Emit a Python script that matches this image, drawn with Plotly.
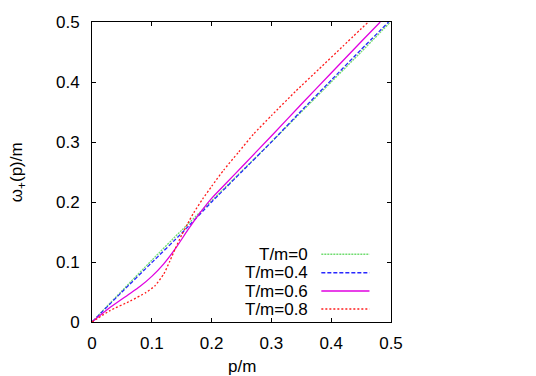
import plotly.graph_objects as go

# ---- data ----
p_T0 = [0, 0.05, 0.1, 0.15, 0.2, 0.25, 0.3, 0.35, 0.4, 0.45, 0.499]
w_T0 = [0, 0.052, 0.103, 0.153, 0.202, 0.251, 0.3, 0.35, 0.4, 0.45, 0.5]

p_T04 = [0, 0.05, 0.1, 0.15, 0.2, 0.25, 0.3, 0.35, 0.4, 0.45, 0.496]
w_T04 = [0, 0.05, 0.099, 0.148, 0.2, 0.25, 0.3, 0.352, 0.403, 0.454, 0.5]

p_T06 = [0, 0.03, 0.06, 0.08, 0.1, 0.12, 0.14, 0.16, 0.18, 0.2, 0.225, 0.25, 0.3, 0.35, 0.4, 0.45, 0.482]
w_T06 = [0, 0.024, 0.045, 0.059, 0.076, 0.097, 0.123, 0.153, 0.181, 0.206, 0.232, 0.258, 0.31, 0.363, 0.415, 0.467, 0.5]

p_T08 = [0, 0.03, 0.064, 0.09, 0.105, 0.12, 0.13, 0.14, 0.15, 0.16, 0.17, 0.185, 0.2, 0.22, 0.245, 0.27, 0.3, 0.34, 0.38, 0.42, 0.462]
w_T08 = [0, 0.019, 0.035, 0.049, 0.06, 0.08, 0.101, 0.124, 0.145, 0.164, 0.182, 0.205, 0.226, 0.253, 0.283, 0.313, 0.344, 0.384, 0.422, 0.46, 0.5]

labels = ["T/m=0", "T/m=0.4", "T/m=0.6", "T/m=0.8"]
colors = ["#70dc70", "#2828ff", "#e000e0", "#ff1c1c"]
dashes = ["2px,1px", "4px,2px", "solid", "2px,2px"]
xs = [p_T0, p_T04, p_T06, p_T08]
ys = [w_T0, w_T04, w_T06, w_T08]

tick_vals = [0, 0.1, 0.2, 0.3, 0.4, 0.5]
tick_text = ["0", "0.1", "0.2", "0.3", "0.4", "0.5"]

FONT = "Liberation Sans, Arial, sans-serif"
FS = 17

fig = go.Figure()
for x, y, c, d, n in zip(xs, ys, colors, dashes, labels):
    fig.add_trace(go.Scatter(x=x, y=y, mode="lines", name=n,
                             line=dict(color=c, width=1.3, dash=d, shape="spline", smoothing=0.5),
                             showlegend=False, cliponaxis=True, hoverinfo="skip"))

# gnuplot-style key: text on the left, line sample on the right
row_y = [0.2257, 0.1643, 0.1033, 0.0433]
for n, c, d, yy in zip(labels, colors, dashes, row_y):
    fig.add_annotation(x=0.728, y=yy, xref="paper", yref="paper", text=n, showarrow=False,
                       xanchor="right", yanchor="middle", font=dict(family=FONT, size=FS, color="black"))
    fig.add_shape(type="line", xref="paper", yref="paper", x0=0.767, x1=0.928, y0=yy, y1=yy,
                  line=dict(color=c, width=1.5, dash=d))

axis_common = dict(range=[0, 0.5], tickvals=tick_vals, ticktext=tick_text, ticks="inside", ticklen=4,
                   tickcolor="black", showline=True, linecolor="black", linewidth=1, mirror="ticks",
                   showgrid=False, zeroline=False, automargin=False,
                   tickfont=dict(family=FONT, size=FS, color="black"))

fig.update_xaxes(**axis_common, ticklabelstandoff=6)
fig.update_yaxes(**axis_common, ticklabelstandoff=8)

fig.add_annotation(x=(241.5 - 91.5) / 300, y=(322 - 366) / 300, xref="paper", yref="paper",
                   text="p/m", showarrow=False, xanchor="center", yanchor="middle",
                   font=dict(family=FONT, size=FS, color="black"))
fig.add_annotation(x=(17.5 - 91.5) / 300, y=0.5, xref="paper", yref="paper",
                   text="ω<sub>+</sub>(p)/m", showarrow=False, textangle=-90,
                   xanchor="center", yanchor="middle",
                   font=dict(family=FONT, size=FS, color="black"))

fig.update_layout(width=536, height=376, margin=dict(l=91.5, r=144.5, t=22, b=54),
                  paper_bgcolor="white", plot_bgcolor="white")

fig.write_html("out.html", config={"displayModeBar": False, "staticPlot": True},
               post_script="document.body.style.margin='0px';document.body.style.overflow='hidden';")
